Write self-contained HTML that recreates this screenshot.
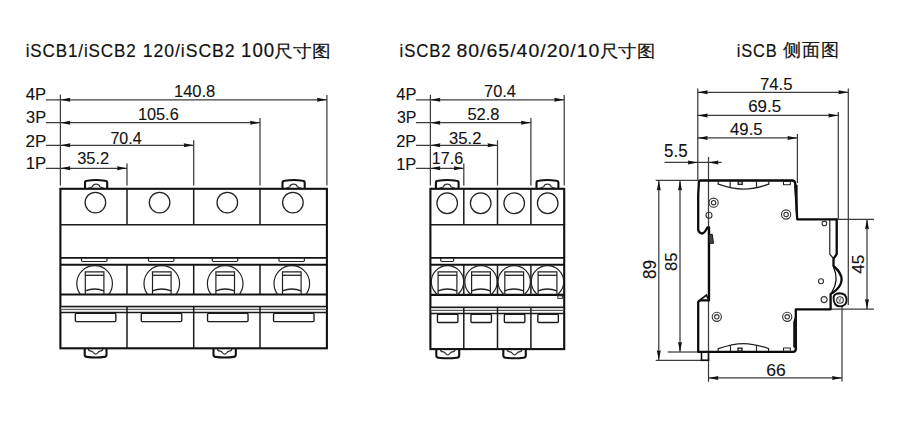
<!DOCTYPE html>
<html><head><meta charset="utf-8"><style>
html,body{margin:0;padding:0;background:#fff;overflow:hidden;}
svg{display:block;}
text{font-family:"Liberation Sans",sans-serif;fill:#111;}
text.t{stroke:#111;stroke-width:0.2px;}
text.n{stroke:#111;stroke-width:0.1px;}
</style></head><body>
<svg width="900" height="422" viewBox="0 0 900 422">
<rect width="900" height="422" fill="#fff"/>
<text class="t" font-size="19" letter-spacing="1" transform="translate(25.63 56.80) scale(0.8958 0.9855)">iSCB1/iSCB2</text>
<text class="t" font-size="19" letter-spacing="1" transform="translate(142.69 56.80) scale(0.9307 0.9855)">120/iSCB2</text>
<text class="t" font-size="19" letter-spacing="1" transform="translate(241.12 56.80) scale(0.9811 1.0376)">100</text>
<text class="t" font-size="19" transform="translate(274.01 56.87) scale(0.9836 0.8962)">尺寸图</text>
<text class="t" font-size="19" letter-spacing="1" transform="translate(399.54 56.80) scale(0.8835 0.9855)">iSCB2</text>
<text class="t" font-size="19" letter-spacing="1" transform="translate(456.48 56.80) scale(1.0224 1.0000)">80/65/40/20/10</text>
<text class="t" font-size="19" transform="translate(599.60 56.91) scale(0.9891 0.9180)">尺寸图</text>
<text class="t" font-size="19" letter-spacing="1" transform="translate(736.66 56.80) scale(0.8665 0.9855)">iSCB</text>
<text class="t" font-size="19" letter-spacing="1" transform="translate(783.39 56.36) scale(0.9424 0.9379)">侧面图</text>
<text class="n" font-size="16" transform="translate(25.69 100.30) scale(1.0432 1.0180)">4P</text>
<text class="n" font-size="16" transform="translate(26.09 122.90) scale(1.0219 0.9911)">3P</text>
<text class="n" font-size="16" transform="translate(25.45 146.90) scale(1.0663 1.0000)">2P</text>
<text class="n" font-size="16" transform="translate(25.74 169.10) scale(1.0508 0.9820)">1P</text>
<text class="n" font-size="16" transform="translate(396.29 100.40) scale(1.0270 1.0270)">4P</text>
<text class="n" font-size="16" transform="translate(396.90 123.10) scale(0.9945 1.0089)">3P</text>
<text class="n" font-size="16" transform="translate(396.18 146.90) scale(1.0276 0.9821)">2P</text>
<text class="n" font-size="16" transform="translate(396.17 169.80) scale(1.0282 1.0270)">1P</text>
<text class="n" font-size="16" transform="translate(173.96 97.20) scale(1.0339 1.0714)">140.8</text>
<text class="n" font-size="16" transform="translate(137.88 120.30) scale(1.0209 1.0714)">105.6</text>
<text class="n" font-size="16" transform="translate(110.40 144.00) scale(1.0033 1.0804)">70.4</text>
<text class="n" font-size="16" transform="translate(77.19 164.30) scale(1.0268 1.0804)">35.2</text>
<text class="n" font-size="16" transform="translate(484.09 97.40) scale(1.0199 0.9911)">70.4</text>
<text class="n" font-size="16" transform="translate(467.38 120.30) scale(1.0333 1.0089)">52.8</text>
<text class="n" font-size="16" transform="translate(449.08 143.80) scale(1.0368 0.9911)">35.2</text>
<text class="n" font-size="16" transform="translate(431.79 164.30) scale(1.0068 0.9911)">17.6</text>
<text class="n" font-size="16" transform="translate(759.97 90.00) scale(1.0468 1.0000)">74.5</text>
<text class="n" font-size="16" transform="translate(748.16 112.40) scale(1.0569 1.0000)">69.5</text>
<text class="n" font-size="16" transform="translate(730.09 135.40) scale(1.0429 0.9911)">49.5</text>
<text class="n" font-size="16" transform="translate(664.07 157.10) scale(1.0566 1.0901)">5.5</text>
<text class="n" font-size="16" transform="translate(766.33 376.00) scale(1.0970 1.0804)">66</text>
<text class="n" font-size="16" transform="translate(655.90 278.94) rotate(-90) scale(1.0606 1.1250)">89</text>
<text class="n" font-size="16" transform="translate(676.80 271.03) rotate(-90) scale(1.0422 1.0625)">85</text>
<text class="n" font-size="16" transform="translate(864.00 273.72) rotate(-90) scale(1.0769 1.0541)">45</text>
<line x1="45.9" y1="99.8" x2="326.9" y2="99.8" stroke="#3c3c3c" stroke-width="1.25" fill="none"/>
<polygon points="60.4,99.8 70.4,97.8 69.7,99.8 70.4,101.8" fill="#111"/>
<polygon points="326.9,99.8 316.9,97.8 317.6,99.8 316.9,101.8" fill="#111"/>
<line x1="326.9" y1="95" x2="326.9" y2="185.5" stroke="#3c3c3c" stroke-width="1.25" fill="none"/>
<line x1="45.9" y1="122.7" x2="260" y2="122.7" stroke="#3c3c3c" stroke-width="1.25" fill="none"/>
<polygon points="60.4,122.7 70.4,120.7 69.7,122.7 70.4,124.7" fill="#111"/>
<polygon points="260,122.7 250,120.7 250.7,122.7 250,124.7" fill="#111"/>
<line x1="260" y1="118" x2="260" y2="185.5" stroke="#3c3c3c" stroke-width="1.25" fill="none"/>
<line x1="45.9" y1="145.3" x2="193.7" y2="145.3" stroke="#3c3c3c" stroke-width="1.25" fill="none"/>
<polygon points="60.4,145.3 70.4,143.3 69.7,145.3 70.4,147.3" fill="#111"/>
<polygon points="193.7,145.3 183.7,143.3 184.4,145.3 183.7,147.3" fill="#111"/>
<line x1="193.7" y1="140.3" x2="193.7" y2="185.5" stroke="#3c3c3c" stroke-width="1.25" fill="none"/>
<line x1="45.9" y1="168.3" x2="127" y2="168.3" stroke="#3c3c3c" stroke-width="1.25" fill="none"/>
<polygon points="60.4,168.3 70.4,166.3 69.7,168.3 70.4,170.3" fill="#111"/>
<polygon points="127,168.3 117,166.3 117.7,168.3 117,170.3" fill="#111"/>
<line x1="127" y1="163.5" x2="127" y2="185.5" stroke="#3c3c3c" stroke-width="1.25" fill="none"/>
<line x1="60.4" y1="94.7" x2="60.4" y2="185.5" stroke="#3c3c3c" stroke-width="1.25" fill="none"/>
<path d="M85 188.8 V182.8 Q85 180.8 87.2 180.7 Q96.1 179.4 105 180.7 Q107.2 180.8 107.2 182.8 V188.8" stroke="#111" stroke-width="2.1" fill="none"/>
<path d="M88.1 188.3 Q91.1 187.6 92.3 186.8 C93.3 183.2 98.9 183.2 99.9 186.8 Q101.1 187.6 104.1 188.3" stroke="#333" stroke-width="1.2" fill="none"/>
<path d="M282.5 188.8 V182.8 Q282.5 180.8 284.7 180.7 Q293.6 179.4 302.5 180.7 Q304.7 180.8 304.7 182.8 V188.8" stroke="#111" stroke-width="2.1" fill="none"/>
<path d="M285.6 188.3 Q288.6 187.6 289.8 186.8 C290.8 183.2 296.4 183.2 297.4 186.8 Q298.6 187.6 301.6 188.3" stroke="#333" stroke-width="1.2" fill="none"/>
<path d="M84.7 348.3 V354.8 Q84.7 356.8 86.9 356.9 Q95.6 358.1 104.3 356.9 Q106.5 356.8 106.5 354.8 V348.3" stroke="#111" stroke-width="2.1" fill="none"/>
<path d="M88.4 348.9 Q88.4 350.9 91.1 351.1 Q92.6 351.3 93.4 352.6 Q95.6 355.7 97.8 352.6 Q98.6 351.3 100.1 351.1 Q102.8 350.9 102.8 348.9" stroke="#333" stroke-width="1.2" fill="none"/>
<path d="M213.5 348.3 V354.8 Q213.5 356.8 215.7 356.9 Q224.65 358.1 233.6 356.9 Q235.8 356.8 235.8 354.8 V348.3" stroke="#111" stroke-width="2.1" fill="none"/>
<path d="M217.45 348.9 Q217.45 350.9 220.15 351.1 Q221.65 351.3 222.45 352.6 Q224.65 355.7 226.85 352.6 Q227.65 351.3 229.15 351.1 Q231.85 350.9 231.85 348.9" stroke="#333" stroke-width="1.2" fill="none"/>
<rect x="60.4" y="188.8" width="266.5" height="159.5" fill="#fff" stroke="#111" stroke-width="2.1" fill="none"/>
<line x1="60.4" y1="224.7" x2="326.9" y2="224.7" stroke="#1a1a1a" stroke-width="1.5" fill="none"/>
<line x1="60.4" y1="257.8" x2="326.9" y2="257.8" stroke="#111" stroke-width="1.8" fill="none"/>
<line x1="60.4" y1="264.7" x2="326.9" y2="264.7" stroke="#111" stroke-width="2.1" fill="none"/>
<line x1="60.4" y1="294.5" x2="326.9" y2="294.5" stroke="#111" stroke-width="2.1" fill="none"/>
<rect x="61.4" y="306.4" width="264.5" height="3.1" fill="#dcdcdc"/>
<line x1="60.4" y1="306.4" x2="326.9" y2="306.4" stroke="#1a1a1a" stroke-width="1.5" fill="none"/>
<line x1="60.4" y1="309.6" x2="326.9" y2="309.6" stroke="#555" stroke-width="1" fill="none"/>
<line x1="60.4" y1="312.6" x2="326.9" y2="312.6" stroke="#1a1a1a" stroke-width="1.5" fill="none"/>
<line x1="127" y1="188.8" x2="127" y2="224.7" stroke="#1a1a1a" stroke-width="1.5" fill="none"/>
<line x1="127" y1="264.7" x2="127" y2="294.5" stroke="#1a1a1a" stroke-width="1.5" fill="none"/>
<line x1="127" y1="306.4" x2="127" y2="348.3" stroke="#1a1a1a" stroke-width="1.5" fill="none"/>
<line x1="193.7" y1="188.8" x2="193.7" y2="224.7" stroke="#1a1a1a" stroke-width="1.5" fill="none"/>
<line x1="193.7" y1="264.7" x2="193.7" y2="294.5" stroke="#1a1a1a" stroke-width="1.5" fill="none"/>
<line x1="193.7" y1="306.4" x2="193.7" y2="348.3" stroke="#1a1a1a" stroke-width="1.5" fill="none"/>
<line x1="260" y1="188.8" x2="260" y2="224.7" stroke="#1a1a1a" stroke-width="1.5" fill="none"/>
<line x1="260" y1="264.7" x2="260" y2="294.5" stroke="#1a1a1a" stroke-width="1.5" fill="none"/>
<line x1="260" y1="306.4" x2="260" y2="348.3" stroke="#1a1a1a" stroke-width="1.5" fill="none"/>
<circle cx="95.4" cy="202.6" r="10.3" stroke="#222" stroke-width="1.25" fill="none"/>
<circle cx="159.6" cy="202.6" r="10.3" stroke="#222" stroke-width="1.25" fill="none"/>
<circle cx="227.3" cy="202.6" r="10.3" stroke="#222" stroke-width="1.25" fill="none"/>
<circle cx="292.9" cy="202.6" r="10.3" stroke="#222" stroke-width="1.25" fill="none"/>
<path d="M81.45 258 V260.3 Q81.45 261.5 82.75 261.5 H105.65 Q106.95 261.5 106.95 260.3 V258" stroke="#222" stroke-width="1.2" fill="none"/>
<path d="M148.45 258 V260.3 Q148.45 261.5 149.75 261.5 H172.65 Q173.95 261.5 173.95 260.3 V258" stroke="#222" stroke-width="1.2" fill="none"/>
<path d="M212.25 258 V260.3 Q212.25 261.5 213.55 261.5 H236.45 Q237.75 261.5 237.75 260.3 V258" stroke="#222" stroke-width="1.2" fill="none"/>
<path d="M278.95 258 V260.3 Q278.95 261.5 280.25 261.5 H303.15 Q304.45 261.5 304.45 260.3 V258" stroke="#222" stroke-width="1.2" fill="none"/>
<clipPath id="c60_0"><rect x="60.4" y="264.7" width="66.6" height="29.8"/></clipPath>
<circle cx="94.6" cy="283.4" r="17.8" stroke="#222" stroke-width="1.2" fill="none" clip-path="url(#c60_0)"/>
<path d="M85.3 294.5 V271.8 H103.9 V294.5" stroke="#222" stroke-width="1.2" fill="none"/>
<line x1="85.3" y1="275.3" x2="103.9" y2="275.3" stroke="#222" stroke-width="1.3" fill="none"/>
<path d="M85.3 290.8 Q94.6 287.2 103.9 290.8" stroke="#222" stroke-width="1.3" fill="none"/>
<clipPath id="c60_1"><rect x="127" y="264.7" width="66.7" height="29.8"/></clipPath>
<circle cx="161.8" cy="283.4" r="17.8" stroke="#222" stroke-width="1.2" fill="none" clip-path="url(#c60_1)"/>
<path d="M152.5 294.5 V271.8 H171.1 V294.5" stroke="#222" stroke-width="1.2" fill="none"/>
<line x1="152.5" y1="275.3" x2="171.1" y2="275.3" stroke="#222" stroke-width="1.3" fill="none"/>
<path d="M152.5 290.8 Q161.8 287.2 171.1 290.8" stroke="#222" stroke-width="1.3" fill="none"/>
<clipPath id="c60_2"><rect x="193.7" y="264.7" width="66.3" height="29.8"/></clipPath>
<circle cx="225.2" cy="283.4" r="17.8" stroke="#222" stroke-width="1.2" fill="none" clip-path="url(#c60_2)"/>
<path d="M215.9 294.5 V271.8 H234.5 V294.5" stroke="#222" stroke-width="1.2" fill="none"/>
<line x1="215.9" y1="275.3" x2="234.5" y2="275.3" stroke="#222" stroke-width="1.3" fill="none"/>
<path d="M215.9 290.8 Q225.2 287.2 234.5 290.8" stroke="#222" stroke-width="1.3" fill="none"/>
<clipPath id="c60_3"><rect x="260" y="264.7" width="66.9" height="29.8"/></clipPath>
<circle cx="291.8" cy="283.4" r="17.8" stroke="#222" stroke-width="1.2" fill="none" clip-path="url(#c60_3)"/>
<path d="M282.5 294.5 V271.8 H301.1 V294.5" stroke="#222" stroke-width="1.2" fill="none"/>
<line x1="282.5" y1="275.3" x2="301.1" y2="275.3" stroke="#222" stroke-width="1.3" fill="none"/>
<path d="M282.5 290.8 Q291.8 287.2 301.1 290.8" stroke="#222" stroke-width="1.3" fill="none"/>
<rect x="75.35" y="313.4" width="40.5" height="8.2" rx="1" stroke="#1a1a1a" stroke-width="1.35" fill="none"/>
<rect x="141.25" y="313.4" width="40.5" height="8.2" rx="1" stroke="#1a1a1a" stroke-width="1.35" fill="none"/>
<rect x="207.55" y="313.4" width="40.5" height="8.2" rx="1" stroke="#1a1a1a" stroke-width="1.35" fill="none"/>
<rect x="273.55" y="313.4" width="40.5" height="8.2" rx="1" stroke="#1a1a1a" stroke-width="1.35" fill="none"/>
<line x1="415.9" y1="99.8" x2="564.2" y2="99.8" stroke="#3c3c3c" stroke-width="1.25" fill="none"/>
<polygon points="430.4,99.8 440.4,97.8 439.7,99.8 440.4,101.8" fill="#111"/>
<polygon points="564.2,99.8 554.2,97.8 554.9,99.8 554.2,101.8" fill="#111"/>
<line x1="564.2" y1="95" x2="564.2" y2="185.5" stroke="#3c3c3c" stroke-width="1.25" fill="none"/>
<line x1="415.9" y1="122.7" x2="530.9" y2="122.7" stroke="#3c3c3c" stroke-width="1.25" fill="none"/>
<polygon points="430.4,122.7 440.4,120.7 439.7,122.7 440.4,124.7" fill="#111"/>
<polygon points="530.9,122.7 520.9,120.7 521.6,122.7 520.9,124.7" fill="#111"/>
<line x1="530.9" y1="118" x2="530.9" y2="185.5" stroke="#3c3c3c" stroke-width="1.25" fill="none"/>
<line x1="415.9" y1="145.3" x2="497.5" y2="145.3" stroke="#3c3c3c" stroke-width="1.25" fill="none"/>
<polygon points="430.4,145.3 440.4,143.3 439.7,145.3 440.4,147.3" fill="#111"/>
<polygon points="497.5,145.3 487.5,143.3 488.2,145.3 487.5,147.3" fill="#111"/>
<line x1="497.5" y1="140.3" x2="497.5" y2="185.5" stroke="#3c3c3c" stroke-width="1.25" fill="none"/>
<line x1="415.9" y1="168.3" x2="463.8" y2="168.3" stroke="#3c3c3c" stroke-width="1.25" fill="none"/>
<polygon points="430.4,168.3 440.4,166.3 439.7,168.3 440.4,170.3" fill="#111"/>
<polygon points="463.8,168.3 453.8,166.3 454.5,168.3 453.8,170.3" fill="#111"/>
<line x1="463.8" y1="163.5" x2="463.8" y2="185.5" stroke="#3c3c3c" stroke-width="1.25" fill="none"/>
<line x1="430.4" y1="94.7" x2="430.4" y2="185.5" stroke="#3c3c3c" stroke-width="1.25" fill="none"/>
<path d="M435.9 188.8 V182.8 Q435.9 180.8 438.1 180.7 Q447.25 179.4 456.4 180.7 Q458.6 180.8 458.6 182.8 V188.8" stroke="#111" stroke-width="2.1" fill="none"/>
<path d="M439.25 188.3 Q442.25 187.6 443.45 186.8 C444.45 183.2 450.05 183.2 451.05 186.8 Q452.25 187.6 455.25 188.3" stroke="#333" stroke-width="1.2" fill="none"/>
<path d="M536.5 188.8 V182.8 Q536.5 180.8 538.7 180.7 Q547.45 179.4 556.2 180.7 Q558.4 180.8 558.4 182.8 V188.8" stroke="#111" stroke-width="2.1" fill="none"/>
<path d="M539.45 188.3 Q542.45 187.6 543.65 186.8 C544.65 183.2 550.25 183.2 551.25 186.8 Q552.45 187.6 555.45 188.3" stroke="#333" stroke-width="1.2" fill="none"/>
<path d="M436.3 349.1 V355.6 Q436.3 357.6 438.5 357.7 Q447.75 358.9 457 357.7 Q459.2 357.6 459.2 355.6 V349.1" stroke="#111" stroke-width="2.1" fill="none"/>
<path d="M440.55 349.7 Q440.55 351.7 443.25 351.9 Q444.75 352.1 445.55 353.4 Q447.75 356.5 449.95 353.4 Q450.75 352.1 452.25 351.9 Q454.95 351.7 454.95 349.7" stroke="#333" stroke-width="1.2" fill="none"/>
<path d="M503.3 349.1 V355.6 Q503.3 357.6 505.5 357.7 Q514.55 358.9 523.6 357.7 Q525.8 357.6 525.8 355.6 V349.1" stroke="#111" stroke-width="2.1" fill="none"/>
<path d="M507.35 349.7 Q507.35 351.7 510.05 351.9 Q511.55 352.1 512.35 353.4 Q514.55 356.5 516.75 353.4 Q517.55 352.1 519.05 351.9 Q521.75 351.7 521.75 349.7" stroke="#333" stroke-width="1.2" fill="none"/>
<rect x="430.4" y="188.8" width="133.8" height="160.3" fill="#fff" stroke="#111" stroke-width="2.1" fill="none"/>
<line x1="430.4" y1="224.7" x2="564.2" y2="224.7" stroke="#1a1a1a" stroke-width="1.5" fill="none"/>
<line x1="430.4" y1="257.8" x2="564.2" y2="257.8" stroke="#111" stroke-width="1.8" fill="none"/>
<line x1="430.4" y1="264.7" x2="564.2" y2="264.7" stroke="#111" stroke-width="2.1" fill="none"/>
<line x1="430.4" y1="294.9" x2="564.2" y2="294.9" stroke="#111" stroke-width="2.1" fill="none"/>
<rect x="431.4" y="307.3" width="131.8" height="3.1" fill="#dcdcdc"/>
<line x1="430.4" y1="307.3" x2="564.2" y2="307.3" stroke="#1a1a1a" stroke-width="1.5" fill="none"/>
<line x1="430.4" y1="310.5" x2="564.2" y2="310.5" stroke="#555" stroke-width="1" fill="none"/>
<line x1="430.4" y1="313.5" x2="564.2" y2="313.5" stroke="#1a1a1a" stroke-width="1.5" fill="none"/>
<line x1="463.8" y1="188.8" x2="463.8" y2="224.7" stroke="#1a1a1a" stroke-width="1.5" fill="none"/>
<line x1="463.8" y1="264.7" x2="463.8" y2="294.9" stroke="#1a1a1a" stroke-width="1.5" fill="none"/>
<line x1="463.8" y1="307.3" x2="463.8" y2="349.1" stroke="#1a1a1a" stroke-width="1.5" fill="none"/>
<line x1="497.5" y1="188.8" x2="497.5" y2="224.7" stroke="#1a1a1a" stroke-width="1.5" fill="none"/>
<line x1="497.5" y1="264.7" x2="497.5" y2="294.9" stroke="#1a1a1a" stroke-width="1.5" fill="none"/>
<line x1="497.5" y1="307.3" x2="497.5" y2="349.1" stroke="#1a1a1a" stroke-width="1.5" fill="none"/>
<line x1="530.9" y1="188.8" x2="530.9" y2="224.7" stroke="#1a1a1a" stroke-width="1.5" fill="none"/>
<line x1="530.9" y1="264.7" x2="530.9" y2="294.9" stroke="#1a1a1a" stroke-width="1.5" fill="none"/>
<line x1="530.9" y1="307.3" x2="530.9" y2="349.1" stroke="#1a1a1a" stroke-width="1.5" fill="none"/>
<circle cx="447.2" cy="203.2" r="10.3" stroke="#222" stroke-width="1.25" fill="none"/>
<circle cx="480.7" cy="203.2" r="10.3" stroke="#222" stroke-width="1.25" fill="none"/>
<circle cx="514.2" cy="203.2" r="10.3" stroke="#222" stroke-width="1.25" fill="none"/>
<circle cx="547.7" cy="203.2" r="10.3" stroke="#222" stroke-width="1.25" fill="none"/>
<path d="M440.7 258 V260.3 Q440.7 261.5 442 261.5 H452.4 Q453.7 261.5 453.7 260.3 V258" stroke="#222" stroke-width="1.2" fill="none"/>
<clipPath id="c430_0"><rect x="430.4" y="264.7" width="33.4" height="30.2"/></clipPath>
<circle cx="447.5" cy="281.8" r="16.2" stroke="#222" stroke-width="1.2" fill="none" clip-path="url(#c430_0)"/>
<path d="M438.1 294.9 V271.8 H456.9 V294.9" stroke="#222" stroke-width="1.2" fill="none"/>
<line x1="438.1" y1="275.3" x2="456.9" y2="275.3" stroke="#222" stroke-width="1.3" fill="none"/>
<path d="M438.1 290.8 Q447.5 287.2 456.9 290.8" stroke="#222" stroke-width="1.3" fill="none"/>
<clipPath id="c430_1"><rect x="463.8" y="264.7" width="33.7" height="30.2"/></clipPath>
<circle cx="481" cy="281.8" r="16.2" stroke="#222" stroke-width="1.2" fill="none" clip-path="url(#c430_1)"/>
<path d="M471.6 294.9 V271.8 H490.4 V294.9" stroke="#222" stroke-width="1.2" fill="none"/>
<line x1="471.6" y1="275.3" x2="490.4" y2="275.3" stroke="#222" stroke-width="1.3" fill="none"/>
<path d="M471.6 290.8 Q481 287.2 490.4 290.8" stroke="#222" stroke-width="1.3" fill="none"/>
<clipPath id="c430_2"><rect x="497.5" y="264.7" width="33.4" height="30.2"/></clipPath>
<circle cx="514.2" cy="281.8" r="16.2" stroke="#222" stroke-width="1.2" fill="none" clip-path="url(#c430_2)"/>
<path d="M504.8 294.9 V271.8 H523.6 V294.9" stroke="#222" stroke-width="1.2" fill="none"/>
<line x1="504.8" y1="275.3" x2="523.6" y2="275.3" stroke="#222" stroke-width="1.3" fill="none"/>
<path d="M504.8 290.8 Q514.2 287.2 523.6 290.8" stroke="#222" stroke-width="1.3" fill="none"/>
<clipPath id="c430_3"><rect x="530.9" y="264.7" width="33.3" height="30.2"/></clipPath>
<circle cx="547.5" cy="281.8" r="16.2" stroke="#222" stroke-width="1.2" fill="none" clip-path="url(#c430_3)"/>
<path d="M538.1 294.9 V271.8 H556.9 V294.9" stroke="#222" stroke-width="1.2" fill="none"/>
<line x1="538.1" y1="275.3" x2="556.9" y2="275.3" stroke="#222" stroke-width="1.3" fill="none"/>
<path d="M538.1 290.8 Q547.5 287.2 556.9 290.8" stroke="#222" stroke-width="1.3" fill="none"/>
<rect x="437.45" y="314.2" width="20.5" height="8.3" rx="1" stroke="#1a1a1a" stroke-width="1.35" fill="none"/>
<rect x="470.95" y="314.2" width="20.5" height="8.3" rx="1" stroke="#1a1a1a" stroke-width="1.35" fill="none"/>
<rect x="504.35" y="314.2" width="20.5" height="8.3" rx="1" stroke="#1a1a1a" stroke-width="1.35" fill="none"/>
<rect x="537.85" y="314.2" width="20.5" height="8.3" rx="1" stroke="#1a1a1a" stroke-width="1.35" fill="none"/>
<rect x="557.8" y="295.8" width="4.6" height="2.6" stroke="#333" stroke-width="1" fill="none"/>
<line x1="697.8" y1="88.5" x2="697.8" y2="181" stroke="#3c3c3c" stroke-width="1.25" fill="none"/>
<line x1="697.8" y1="92.3" x2="848.3" y2="92.3" stroke="#3c3c3c" stroke-width="1.25" fill="none"/>
<polygon points="697.8,92.3 707.8,90.3 707.1,92.3 707.8,94.3" fill="#111"/>
<polygon points="848.3,92.3 838.3,90.3 839,92.3 838.3,94.3" fill="#111"/>
<line x1="697.8" y1="115.4" x2="838.3" y2="115.4" stroke="#3c3c3c" stroke-width="1.25" fill="none"/>
<polygon points="697.8,115.4 707.8,113.4 707.1,115.4 707.8,117.4" fill="#111"/>
<polygon points="838.3,115.4 828.3,113.4 829,115.4 828.3,117.4" fill="#111"/>
<line x1="697.8" y1="137.9" x2="797.4" y2="137.9" stroke="#3c3c3c" stroke-width="1.25" fill="none"/>
<polygon points="697.8,137.9 707.8,135.9 707.1,137.9 707.8,139.9" fill="#111"/>
<polygon points="797.4,137.9 787.4,135.9 788.1,137.9 787.4,139.9" fill="#111"/>
<line x1="848.3" y1="88.5" x2="848.3" y2="305" stroke="#3c3c3c" stroke-width="1.25" fill="none"/>
<line x1="838.3" y1="112" x2="838.3" y2="219.3" stroke="#3c3c3c" stroke-width="1.25" fill="none"/>
<line x1="797.4" y1="134" x2="797.4" y2="183" stroke="#3c3c3c" stroke-width="1.25" fill="none"/>
<line x1="664.5" y1="162.4" x2="721.7" y2="162.4" stroke="#3c3c3c" stroke-width="1.25" fill="none"/>
<polygon points="697.8,162.4 687.8,160.4 688.5,162.4 687.8,164.4" fill="#111"/>
<polygon points="708.5,162.4 718.5,160.4 717.8,162.4 718.5,164.4" fill="#111"/>
<line x1="708.5" y1="157" x2="708.5" y2="381.8" stroke="#3c3c3c" stroke-width="1.25" fill="none"/>
<line x1="655.7" y1="180.4" x2="698" y2="180.4" stroke="#3c3c3c" stroke-width="1.25" fill="none"/>
<line x1="658.8" y1="180.4" x2="658.8" y2="360.3" stroke="#3c3c3c" stroke-width="1.25" fill="none"/>
<polygon points="658.8,180.4 656.8,190.4 658.8,189.7 660.8,190.4" fill="#111"/>
<polygon points="658.8,360.3 656.8,350.3 658.8,351 660.8,350.3" fill="#111"/>
<line x1="680" y1="180.4" x2="680" y2="352" stroke="#3c3c3c" stroke-width="1.25" fill="none"/>
<polygon points="680,180.4 678,190.4 680,189.7 682,190.4" fill="#111"/>
<polygon points="680,352 678,342 680,342.7 682,342" fill="#111"/>
<line x1="667.7" y1="352" x2="698" y2="352" stroke="#3c3c3c" stroke-width="1.25" fill="none"/>
<line x1="655.7" y1="360.3" x2="708.5" y2="360.3" stroke="#3c3c3c" stroke-width="1.25" fill="none"/>
<line x1="837" y1="219.3" x2="874" y2="219.3" stroke="#3c3c3c" stroke-width="1.25" fill="none"/>
<line x1="830" y1="309.1" x2="874" y2="309.1" stroke="#3c3c3c" stroke-width="1.25" fill="none"/>
<line x1="867" y1="219.3" x2="867" y2="309.1" stroke="#3c3c3c" stroke-width="1.25" fill="none"/>
<polygon points="867,219.3 865,229.3 867,228.6 869,229.3" fill="#111"/>
<polygon points="867,309.1 865,299.1 867,299.8 869,299.1" fill="#111"/>
<line x1="842" y1="300" x2="842" y2="381.6" stroke="#3c3c3c" stroke-width="1.25" fill="none"/>
<line x1="708.5" y1="377.9" x2="842" y2="377.9" stroke="#3c3c3c" stroke-width="1.25" fill="none"/>
<polygon points="708.5,377.9 718.5,375.9 717.8,377.9 718.5,379.9" fill="#111"/>
<polygon points="842,377.9 832,375.9 832.7,377.9 832,379.9" fill="#111"/>
<path d="M698.2 195 L698.9 181.8 Q699 180.5 700.3 180.5 H792 Q795 180.5 795.2 183.5 L797.2 219.3 H836.7 V254.2 L833.5 258.8 V266 Q850 280 833 292.6 L830.6 294 V309.3 H795.8 V349 Q795.8 351.8 793 351.8 H698.2 V303 Q698.2 300.4 701 300.4 H709 V227.3 H707.5 Q704 234.5 701 233.3 Q698.2 232 698.2 229 Z" stroke="#0a0a0a" stroke-width="2.3" fill="none" stroke-linejoin="round"/>
<path d="M829.8 219.3 V254.2 L833.5 258.5" stroke="#222" stroke-width="1.2" fill="none"/>
<path d="M833.5 267 Q839.5 280 831.8 292.4" stroke="#111" stroke-width="1.3" fill="none"/>
<path d="M700 300 L706.5 295 L708.5 300" stroke="#111" stroke-width="1.6" fill="none"/>
<path d="M709 234.3 H712.3 L713.5 243.3 H709 Z" fill="#444" stroke="#111" stroke-width="1"/>
<rect x="701.5" y="352" width="7" height="8.3" fill="none" stroke="#111" stroke-width="1.6"/>
<path d="M718.2 181.5 V184.2 C728 187.6 737 189.1 743.5 189.1 C750 189.1 759 187.6 768.8 184.2 V181.5" stroke="#222" stroke-width="1.25" fill="none"/>
<line x1="730.2" y1="181.5" x2="730.2" y2="187.2" stroke="#222" stroke-width="1.2"/>
<line x1="756.5" y1="181.5" x2="756.5" y2="187.2" stroke="#222" stroke-width="1.2"/>
<rect x="738.2" y="181.5" width="4" height="2.8" fill="none" stroke="#222" stroke-width="1.4"/>
<rect x="783.5" y="181.5" width="6.8" height="3.2" fill="none" stroke="#222" stroke-width="1"/>
<path d="M718.2 351 V348.6 C728 345.2 737 343.5 743.5 343.5 C750 343.5 759 345.2 768.6 348.6 V351" stroke="#222" stroke-width="1.25" fill="none"/>
<line x1="730.5" y1="345" x2="730.5" y2="351" stroke="#222" stroke-width="1.1"/>
<line x1="756.5" y1="345" x2="756.5" y2="351" stroke="#222" stroke-width="1.1"/>
<rect x="738" y="348.2" width="4" height="2.8" fill="none" stroke="#222" stroke-width="1.4"/>
<rect x="783.5" y="348" width="6.8" height="3.2" fill="none" stroke="#222" stroke-width="1"/>
<circle cx="713.6" cy="202.7" r="4.6" stroke="#333" stroke-width="1.1" fill="none"/>
<circle cx="713.6" cy="202.7" r="2.2" stroke="#333" stroke-width="1.1" fill="none"/>
<circle cx="786.1" cy="214.5" r="4.6" stroke="#333" stroke-width="1.1" fill="none"/>
<circle cx="786.1" cy="214.5" r="2.2" stroke="#333" stroke-width="1.1" fill="none"/>
<circle cx="716.8" cy="316.8" r="4.6" stroke="#333" stroke-width="1.1" fill="none"/>
<circle cx="716.8" cy="316.8" r="2.2" stroke="#333" stroke-width="1.1" fill="none"/>
<circle cx="787.2" cy="316.8" r="4.6" stroke="#333" stroke-width="1.1" fill="none"/>
<circle cx="787.2" cy="316.8" r="2.2" stroke="#333" stroke-width="1.1" fill="none"/>
<circle cx="709" cy="215.2" r="3" stroke="#333" stroke-width="1.1" fill="none"/>
<circle cx="824.4" cy="223.4" r="2.3" stroke="#333" stroke-width="1.1" fill="none"/>
<circle cx="821" cy="281.3" r="2.5" stroke="#333" stroke-width="1.1" fill="none"/>
<circle cx="824.1" cy="299.6" r="3" stroke="#333" stroke-width="1.1" fill="none"/>
<path d="M833.6 297 Q834.5 293.2 839.5 293.2 Q846.6 293.5 846.6 300 Q846.4 306.3 840 306.4 Q833.2 306 833.6 297 Z" stroke="#111" stroke-width="1.9" fill="#fff"/>
<circle cx="840" cy="300" r="3.3" stroke="#333" stroke-width="1.1" fill="none"/>
<path d="M838.5 298.5 L840.5 301.5 M841 298 L839 302" stroke="#555" stroke-width="0.8"/>
<polygon points="794.3,183.5 797.6,185 797.6,211 796.2,219" fill="#111"/>
<polygon points="793.2,322 796.6,312 796.6,349 793.2,347" fill="#111"/>
</svg></body></html>
